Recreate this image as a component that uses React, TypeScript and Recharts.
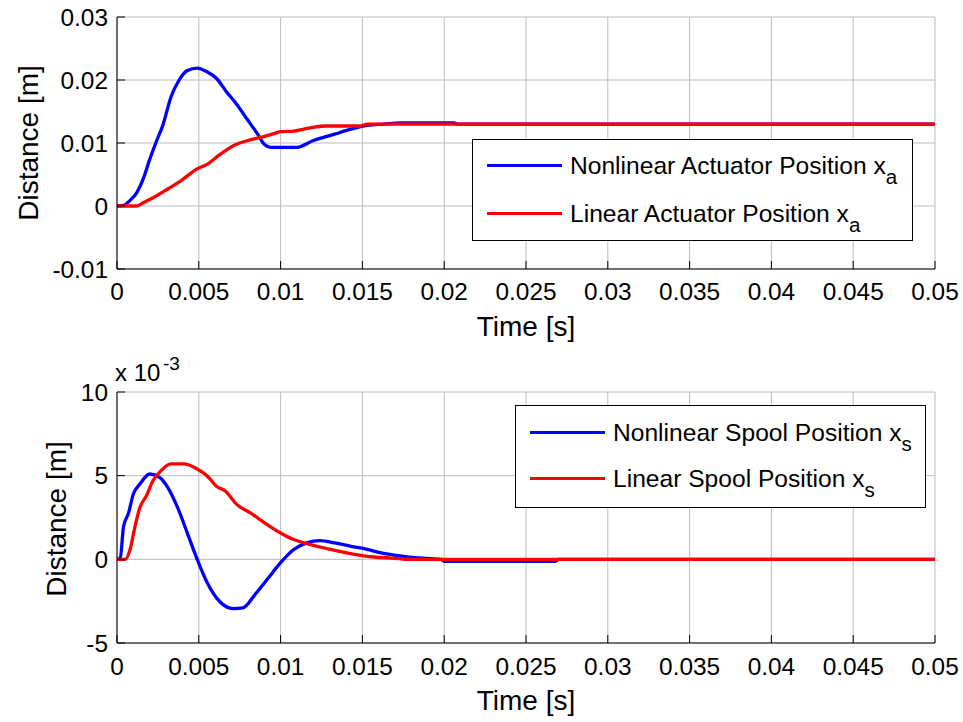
import React from 'react'
import {
  CartesianGrid,
  Legend,
  Line,
  LineChart,
  XAxis,
  YAxis,
} from 'recharts'

// MATLAB-style step response: actuator position (top) and spool position (bottom)

const FONT = "'Liberation Sans', Arial, Helvetica, sans-serif"
const BLUE = '#0000FF'
const RED  = '#FF0000'

// ── Shared time axis ──────────────────────────────────────────────────────────
const timeTicks  = [0, 0.005, 0.01, 0.015, 0.02, 0.025, 0.03, 0.035, 0.04, 0.045, 0.05]
const timeLabels = ['0', '0.005', '0.01', '0.015', '0.02', '0.025', '0.03', '0.035', '0.04', '0.045', '0.05']

// ── Top plot: actuator position [m] ──────────────────────────────────────────
const actTicks  = [-0.01, 0, 0.01, 0.02, 0.03]
const actLabels = ['-0.01', '0', '0.01', '0.02', '0.03']

const nlActT = [0, 0.0004, 0.0008, 0.0012, 0.0016, 0.002, 0.0024, 0.0028, 0.0033, 0.0038,
  0.0043, 0.0049, 0.0055, 0.0061, 0.0067, 0.0073, 0.008, 0.0086, 0.009, 0.0094,
  0.01, 0.011, 0.012, 0.0133, 0.0143, 0.0153, 0.0163, 0.0173, 0.0206, 0.0208, 0.05]
const nlActX = [0, 0.0001, 0.0009, 0.0021, 0.0043, 0.0074, 0.0102, 0.0128, 0.0173, 0.02,
  0.0215, 0.0219, 0.0213, 0.0202, 0.0181, 0.0162, 0.0136, 0.0114, 0.0098, 0.0093,
  0.0093, 0.0093, 0.0104, 0.0114, 0.0122, 0.0128, 0.013, 0.0132, 0.0132, 0.013, 0.013]

const linActT = [0, 0.0012, 0.0016, 0.0022, 0.0031, 0.0039, 0.0049, 0.0055, 0.0063, 0.0073,
  0.008, 0.0088, 0.0096, 0.01, 0.0108, 0.0118, 0.0128, 0.0149, 0.0153, 0.05]
const linActX = [0, 0, 0.0005, 0.0013, 0.0027, 0.004, 0.0059, 0.0066, 0.0082, 0.0098,
  0.0104, 0.0109, 0.0115, 0.0118, 0.0119, 0.0124, 0.0127, 0.0127, 0.013, 0.013]

// ── Bottom plot: spool position [x 10^-3 m] ──────────────────────────────────
const spoolTicks  = [-5, 0, 5, 10]
const spoolLabels = ['-5', '0', '5', '10']

const nlSpoolT = [0, 0.0002, 0.0004, 0.0007, 0.001, 0.0014, 0.002, 0.0026, 0.0031, 0.0037,
  0.0043, 0.0049, 0.0055, 0.0063, 0.0071, 0.0077, 0.0084, 0.0092, 0.01, 0.0108,
  0.0116, 0.0124, 0.0133, 0.0143, 0.0153, 0.0163, 0.0173, 0.0182, 0.0198, 0.02,
  0.0268, 0.027, 0.05]
const nlSpoolX = [0, 0.1, 1.96, 2.75, 3.9, 4.5, 5.1, 4.9, 4.3, 3.1,
  1.57, 0, -1.37, -2.55, -2.94, -2.9, -2.15, -1.18, -0.2, 0.59,
  0.98, 1.12, 0.98, 0.78, 0.59, 0.35, 0.2, 0.1, 0, -0.12,
  -0.12, 0, 0]

const linSpoolT = [0, 0.0005, 0.0008, 0.0011, 0.0014, 0.0018, 0.0022, 0.0027, 0.0033, 0.0041,
  0.0049, 0.0055, 0.0061, 0.0066, 0.0073, 0.0082, 0.0092, 0.01, 0.0108, 0.0116,
  0.0129, 0.0149, 0.0157, 0.0173, 0.0176, 0.05]
const linSpoolX = [0, 0, 0.59, 1.96, 3.1, 3.8, 4.7, 5.3, 5.7, 5.7,
  5.4, 5.0, 4.35, 4.1, 3.3, 2.75, 2.06, 1.57, 1.18, 0.94,
  0.63, 0.24, 0.14, 0.04, 0, 0]

const zip = (t: number[], v: number[]) => t.map((tt, i) => ({ t: tt, v: v[i] }))

const nlActData    = zip(nlActT, nlActX)
const linActData   = zip(linActT, linActX)
const nlSpoolData  = zip(nlSpoolT, nlSpoolX)
const linSpoolData = zip(linSpoolT, linSpoolX)

// ── Legend box (MATLAB look) ─────────────────────────────────────────────────
type LegendItem = { color: string; text: string; sub: string }

function LegendBox({ items, rows }: { items: LegendItem[]; rows: number[] }) {
  return (
    <div
      style={{
        position: 'relative',
        width: '100%',
        height: '100%',
        boxSizing: 'border-box',
        border: '1px solid #000',
        background: '#fff',
        fontFamily: FONT,
        color: '#000',
      }}
    >
      {items.map((it, i) => (
        <div key={i} style={{ position: 'absolute', left: 0, top: rows[i] - 24, height: 48, width: '100%' }}>
          <div style={{ position: 'absolute', left: 14, top: 22, width: 75, height: 3, background: it.color }} />
          <span style={{ position: 'absolute', left: 97, top: 10, fontSize: 24.6, lineHeight: '28px', whiteSpace: 'nowrap' }}>
            {it.text}
            <span style={{ fontSize: 20.5, position: 'relative', top: 10 }}>{it.sub}</span>
          </span>
        </div>
      ))}
    </div>
  )
}

const tickStyle = { fontSize: 24.4, fill: '#000', fontFamily: FONT }
const axisStroke = { stroke: '#000', strokeWidth: 1 }

function YLabel({ x, y }: { x: number; y: number }) {
  return (
    <text
      x={x}
      y={y}
      transform={`rotate(-90 ${x} ${y})`}
      textAnchor="middle"
      dominantBaseline="central"
      fontSize={28}
      fontFamily={FONT}
      fill="#000"
    >
      Distance [m]
    </text>
  )
}

export default function App() {
  return (
    <div style={{ position: 'absolute', left: 0, top: 0, width: 963, height: 722, background: '#fff' }}>
      {/* ── Top: actuator ───────────────────────────────────────────────── */}
      <div style={{ position: 'absolute', left: 0, top: 0 }}>
        <LineChart width={963} height={361} margin={{ top: 17, right: 28, bottom: 22, left: 0 }}>
          <CartesianGrid stroke="#bcbcbc" strokeWidth={1} />
          <XAxis
            dataKey="t" type="number" domain={[0, 0.05]} ticks={timeTicks} interval={0}
            tickFormatter={(_v: number, i: number) => timeLabels[i]}
            tickSize={-8} tickMargin={22} height={70}
            axisLine={axisStroke} tickLine={axisStroke} tick={tickStyle}
            label={{ value: 'Time [s]', position: 'insideBottom', offset: 3, fontSize: 28, fill: '#000', fontFamily: FONT }}
          />
          <XAxis
            xAxisId="top" orientation="top" dataKey="t" type="number" domain={[0, 0.05]}
            ticks={timeTicks} interval={0} height={0} tick={false} tickSize={-8}
            axisLine={axisStroke} tickLine={axisStroke}
          />
          <YAxis
            type="number" domain={[-0.01, 0.03]} ticks={actTicks} interval={0} width={117}
            tickFormatter={(_v: number, i: number) => actLabels[i]}
            tickSize={-8} tickMargin={17}
            axisLine={axisStroke} tickLine={axisStroke} tick={tickStyle}
            label={{ content: () => <YLabel x={28} y={143} /> }}
          />
          <YAxis
            yAxisId="right" orientation="right" type="number" domain={[-0.01, 0.03]}
            ticks={actTicks} interval={0} width={0} tick={false} tickSize={-8}
            axisLine={axisStroke} tickLine={axisStroke}
          />
          <Line data={nlActData} dataKey="v" type="monotone" stroke={BLUE} strokeWidth={3.3} dot={false} isAnimationActive={false} />
          <Line data={linActData} dataKey="v" type="monotone" stroke={RED} strokeWidth={3.3} dot={false} isAnimationActive={false} />
          <Legend
            layout="horizontal" verticalAlign="middle" align="center"
            wrapperStyle={{ left: 472, top: 139, width: 441, height: 102 }}
            content={() => (
              <LegendBox
                rows={[26, 74]}
                items={[
                  { color: BLUE, text: 'Nonlinear Actuator Position x', sub: 'a' },
                  { color: RED, text: 'Linear Actuator Position x', sub: 'a' },
                ]}
              />
            )}
          />
        </LineChart>
      </div>

      {/* ── Bottom: spool ───────────────────────────────────────────────── */}
      <div style={{ position: 'absolute', left: 0, top: 350 }}>
        <LineChart width={963} height={372} margin={{ top: 42, right: 28, bottom: 9, left: 0 }}>
          <CartesianGrid stroke="#bcbcbc" strokeWidth={1} />
          <XAxis
            dataKey="t" type="number" domain={[0, 0.05]} ticks={timeTicks} interval={0}
            tickFormatter={(_v: number, i: number) => timeLabels[i]}
            tickSize={-8} tickMargin={23} height={70}
            axisLine={axisStroke} tickLine={axisStroke} tick={tickStyle}
            label={{ value: 'Time [s]', position: 'insideBottom', offset: 3, fontSize: 28, fill: '#000', fontFamily: FONT }}
          />
          <XAxis
            xAxisId="top" orientation="top" dataKey="t" type="number" domain={[0, 0.05]}
            ticks={timeTicks} interval={0} height={0} tick={false} tickSize={-8}
            axisLine={axisStroke} tickLine={axisStroke}
          />
          <YAxis
            type="number" domain={[-5, 10]} ticks={spoolTicks} interval={0} width={117}
            tickFormatter={(_v: number, i: number) => spoolLabels[i]}
            tickSize={-8} tickMargin={17}
            axisLine={axisStroke} tickLine={axisStroke} tick={tickStyle}
            label={{
              content: () => (
                <g>
                  <YLabel x={56} y={169} />
                  <text x={115} y={31} fontSize={24} fontFamily={FONT} fill="#000">x 10</text>
                  <text x={163} y={20} fontSize={19} fontFamily={FONT} fill="#000">-3</text>
                </g>
              ),
            }}
          />
          <YAxis
            yAxisId="right" orientation="right" type="number" domain={[-5, 10]}
            ticks={spoolTicks} interval={0} width={0} tick={false} tickSize={-8}
            axisLine={axisStroke} tickLine={axisStroke}
          />
          <Line data={nlSpoolData} dataKey="v" type="monotone" stroke={BLUE} strokeWidth={3.3} dot={false} isAnimationActive={false} />
          <Line data={linSpoolData} dataKey="v" type="monotone" stroke={RED} strokeWidth={3.3} dot={false} isAnimationActive={false} />
          <Legend
            layout="horizontal" verticalAlign="middle" align="center"
            wrapperStyle={{ left: 515, top: 55, width: 411, height: 103 }}
            content={() => (
              <LegendBox
                rows={[27, 73]}
                items={[
                  { color: BLUE, text: 'Nonlinear Spool Position x', sub: 's' },
                  { color: RED, text: 'Linear Spool Position x', sub: 's' },
                ]}
              />
            )}
          />
        </LineChart>
      </div>
    </div>
  )
}
